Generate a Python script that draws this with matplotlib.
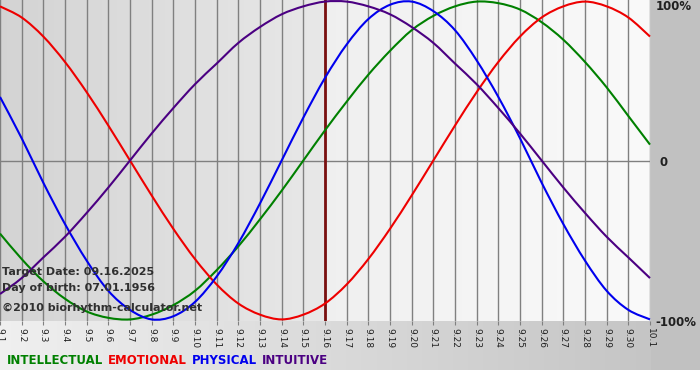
import numpy as np
import matplotlib
matplotlib.use("Agg")
import matplotlib.pyplot as plt
from matplotlib.path import Path
from matplotlib.patches import PathPatch

# dates 9.1 .. 10.1
days = list(range(31))
day_labels = ["9.%d" % d for d in range(1, 31)] + ["10.1"]

# values, -1 .. 1
physical = [0.40, 0.14, -0.14, -0.40, -0.63, -0.82, -0.94, -1.00, -0.98, -0.89,
            -0.73, -0.52, -0.27, 0.00, 0.27, 0.52, 0.73, 0.89, 0.98, 1.00,
            0.94, 0.82, 0.63, 0.40, 0.14, -0.14, -0.40, -0.63, -0.82, -0.94, -1.00]
emotional = [0.97, 0.90, 0.78, 0.62, 0.43, 0.22, 0.00, -0.22, -0.43, -0.62,
             -0.78, -0.90, -0.97, -1.00, -0.97, -0.90, -0.78, -0.62, -0.43, -0.22,
             0.00, 0.22, 0.43, 0.62, 0.78, 0.90, 0.97, 1.00, 0.97, 0.90, 0.78]
intellectual = [-0.46, -0.62, -0.76, -0.87, -0.95, -0.99, -1.00, -0.97, -0.91, -0.82,
                -0.69, -0.54, -0.37, -0.19, 0.00, 0.19, 0.37, 0.54, 0.69, 0.82,
                0.91, 0.97, 1.00, 0.99, 0.95, 0.87, 0.76, 0.62, 0.46, 0.28, 0.10]
intuitive = [-0.84, -0.74, -0.61, -0.48, -0.33, -0.17, 0.00, 0.17, 0.33, 0.48,
             0.61, 0.74, 0.84, 0.92, 0.97, 1.00, 1.00, 0.97, 0.92, 0.84,
             0.74, 0.61, 0.48, 0.33, 0.17, 0.00, -0.17, -0.33, -0.48, -0.61, -0.74]
target_day = 15


def smooth_line(ax, xs, ys, color):
    # draw the points as one smooth bezier path (catmull-rom style)
    p = np.column_stack([xs, ys]).astype(float)
    ext = np.vstack([p[0], p, p[-1]])
    verts = [p[0]]
    codes = [Path.MOVETO]
    for i in range(len(p) - 1):
        a, b, c, d = ext[i], ext[i + 1], ext[i + 2], ext[i + 3]
        verts += [b + (c - a) / 6, c - (d - b) / 6, c]
        codes += [Path.CURVE4] * 3
    patch = PathPatch(Path(verts, codes), fill=False, edgecolor=color, lw=1.5,
                      zorder=3, clip_on=False)
    ax.add_patch(patch)


W, H = 700, 380
fig = plt.figure(figsize=(7, 3.8), dpi=100)

# background of the whole picture
bg = fig.add_axes([0, 0, 1, 1])
grad = np.ones((H, W, 3))
xs = np.linspace(0.94, 0.76, W)
grad[:370, :, :] = xs[None, :, None]
grad[:, 651:, :] = 0.76
grad[370:, :, :] = 1.0
bg.imshow(grad, extent=(0, W, H, 0), aspect="auto")
bg.set_xlim(0, W)
bg.set_ylim(H, 0)
bg.axis("off")

# plot area in pixels
left, top, right, bottom = 0, 0, 650, 321
ax = fig.add_axes([left / W, 1 - bottom / H, (right - left) / W, (bottom - top) / H])
ax.set_xlim(0, 30)
ax.set_ylim(-1.01, 1.01)

# shading: darker to the left of the target date
shade = np.zeros((1, 300))
shade[0, :150] = np.linspace(0.83, 0.91, 150)
shade[0, 150:] = np.linspace(0.94, 0.98, 150)
ax.imshow(np.dstack([shade] * 3), extent=(0, 30, -1.01, 1.01), aspect="auto", zorder=0)

for d in days:
    ax.axvline(d, color="#808080", lw=1, zorder=1)
ax.axhline(0, color="#808080", lw=1, zorder=1)
ax.axvline(target_day, color="#7a1010", lw=2, zorder=2)

smooth_line(ax, days, intellectual, "#008000")
smooth_line(ax, days, emotional, "#ee0000")
smooth_line(ax, days, physical, "#0000ee")
smooth_line(ax, days, intuitive, "#4b0082")

for s in ax.spines.values():
    s.set_visible(False)
ax.set_yticks([])
ax.set_xticks(days)
ax.set_xticklabels(day_labels, rotation=-90, fontsize=6.5, color="#202020")
ax.tick_params(axis="x", length=3, color="#808080", pad=2)

txt = dict(fontsize=8, fontweight="bold", color="#303030", transform=ax.transData)
ax.text(0.1, -0.70, "Target Date: 09.16.2025", va="center", **txt)
ax.text(0.1, -0.80, "Day of birth: 07.01.1956", va="center", **txt)
ax.text(0.1, -0.925, "\u00a92010 biorhythm-calculator.net", va="center", **txt)

# right hand labels
fig.text(656 / W, 1 - 6 / H, "100%", fontsize=8.5, fontweight="bold", color="#202020", va="center")
fig.text(660 / W, 1 - 162 / H, "0", fontsize=8.5, fontweight="bold", color="#202020", va="center")
fig.text(655 / W, 1 - 322 / H, "-100%", fontsize=8.5, fontweight="bold", color="#202020", va="center")

# legend line
x = 7
for name, col in [("INTELLECTUAL", "#008000"), ("EMOTIONAL", "#ee0000"),
                  ("PHYSICAL", "#0000ee"), ("INTUITIVE", "#4b0082")]:
    t = fig.text(x / W, 1 - 361 / H, name, fontsize=8.5, fontweight="bold", color=col, va="center")
    fig.canvas.draw()
    bb = t.get_window_extent()
    x += bb.width + 5

fig.savefig("out.png", dpi=100)
